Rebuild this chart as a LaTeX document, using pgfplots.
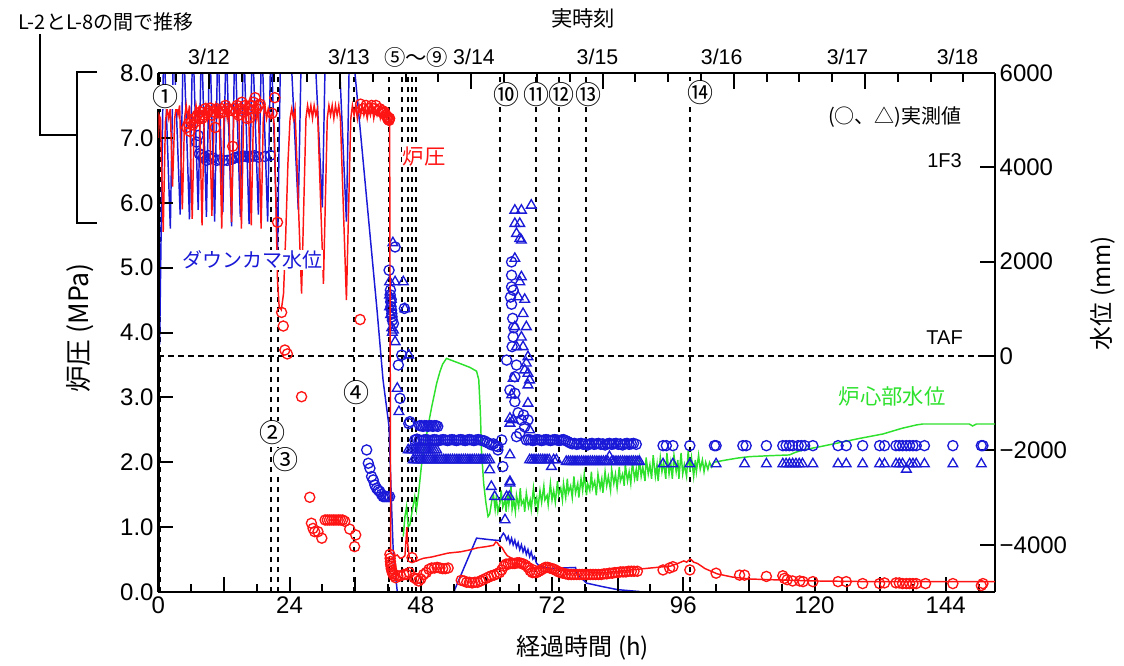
\documentclass[border=0pt]{standalone}
\usepackage{fontspec}
\usepackage{pgfplots}
\pgfplotsset{compat=1.18}
\setmainfont{Liberation Sans}
\newfontfamily\jp{Noto Sans CJK JP}
\definecolor{cred}{RGB}{255,20,20}
\definecolor{cblue}{RGB}{25,25,215}
\definecolor{cgreen}{RGB}{45,225,45}
\tikzset{dl/.style={black, line width=1.5pt, dash pattern=on 4pt off 3.5pt}}
\pgfplotsset{
  base/.style={
    at={(118.725pt,-444pt)}, anchor=south west,
    scale only axis, width=627.5pt, height=389.25pt,
    xmin=0, xmax=153,
    tick align=inside,
    tick style={black, line width=1.5pt},
    axis line style={line width=1.8pt},
    major tick length=11pt, minor tick length=6pt,
    /pgf/number format/assume math mode=true,
    tick label style={font=\fontsize{18}{20}\selectfont},
  }
}
\begin{document}
\begin{tikzpicture}
\path[use as bounding box] (0pt,0pt) rectangle (843pt,-498.75pt);
% ---------------- level axis (right) ----------------
\begin{axis}[base, ymin=-5000, ymax=6000, axis y line*=right, hide x axis,
  ytick={-4000,-2000,0,2000,4000,6000},
  yticklabels={−4000,−2000,0,2000,4000,6000}]
\pgfplotsinvokeforeach{0.3,20.7,21.8,35.8,42.2,44.5,45.6,46.4,47.2,62.4,69.0,73.2,78.2,97.2}{
  \draw[dl] (axis cs:#1,-5000) -- (axis cs:#1,6000);}
\draw[dl] (axis cs:0,0) -- (axis cs:153,0);
% downcomer level line
\addplot[cblue, line width=1.1pt] coordinates {
(0.0,350) (0.25,300) (1.0,6800) (2.2,2700) (2.8,6800) (4.0,3000) (4.6,6800) (5.7,2900) (6.3,6800) (7.3,3100) (7.9,6800) (8.8,2950) (9.4,6800) (10.3,2850) (10.9,6800) (11.8,3050) (12.4,6800) (13.4,2750) (14.0,6800) (15.0,2950) (15.6,6800) (16.6,2800) (17.2,6800) (18.3,3000) (18.9,6800) (20.0,2850) (20.6,6800) (21.8,2250) (22.4,6800) (24.1,6800) (25.6,3100) (26.2,6800) (28.5,6800) (30.0,3150) (30.6,6800) (32.9,6800) (34.4,2850) (35.0,6800) (35.8,6800) (36.0,5950) (40.0,974) (41.1,-508) (42.2,-1496) (42.7,-3323) (43.0,-4247) (43.6,-4882) (43.8,-5100)};
\addplot[cblue, line width=1.1pt] coordinates {
(54.0,-5100) (54.2,-4952) (58.2,-3858) (60.9,-3894) (62.4,-3909) (62.7,-3830) (63.1,-3753) (63.4,-3800) (63.7,-3894) (64.0,-3824) (64.3,-3965) (64.6,-3860) (64.9,-4000) (65.2,-3900) (65.5,-4050) (65.8,-3950) (66.1,-4106) (66.4,-4000) (66.7,-4150) (67.0,-4050) (67.3,-4200) (67.6,-4100) (67.9,-4250) (68.2,-4150) (68.5,-4300) (68.8,-4250) (69.15,-4388) (69.75,-4459) (72.0,-4500) (76.3,-4480) (76.6,-4620) (78.3,-4811) (81.0,-4880) (84.0,-4950) (88.0,-4990) (89.0,-5060)};
% core level
\addplot[cgreen, line width=1.1pt] coordinates {
(44.8,-3824) (45.1,-3400) (45.4,-3189) (45.7,-3612) (46.0,-3577) (46.4,-3300) (46.9,-2978) (47.2,-3259) (47.6,-2900) (48.1,-2343) (48.5,-2000) (49.0,-1708) (49.5,-1380) (50.0,-1073) (50.5,-800) (50.9,-578) (51.5,-330) (52.0,-170) (52.7,-49) (55.0,-150) (57.0,-240) (58.2,-320) (58.6,-500) (58.9,-1200) (59.1,-2000) (59.5,-2700) (59.9,-3100) (60.3,-3400) (60.6,-3350) (61.0,-3050)
(61.3,-2950) (61.6,-3250) (61.8,-3000) (62.1,-3300) (62.5,-3100) (62.7,-2850) (63.0,-3200) (63.4,-3050) (63.6,-3300) (63.9,-2900) (64.1,-3150) (64.5,-2750) (64.7,-3250) (65.0,-3050) (65.3,-3300) (65.5,-2950) (65.9,-3200) (66.2,-2800) (66.4,-3150) (66.8,-3050) (67.0,-3300) (67.3,-2900) (67.7,-3200) (68.0,-3050) (68.2,-3250) (68.6,-2800) (68.9,-3150) (69.2,-3000) (69.4,-3250) (69.8,-2850) (70.1,-3100) (70.5,-2750) (70.7,-3050) (71.1,-2950) (71.3,-3150) (71.7,-2700) (72.0,-3050) (72.3,-2850) (72.6,-3100) (73.0,-2650) (73.2,-2950) (73.6,-2800) (73.9,-3050) (74.1,-2700) (74.5,-3000) (74.8,-2600) (75.0,-2900) (75.4,-2750) (75.7,-3000) (76.0,-2550) (76.3,-2900) (76.7,-2700) (76.9,-3000) (77.3,-2600) (77.6,-2850) (77.9,-2500) (78.3,-2950) (78.5,-2700) (78.9,-2850) (79.2,-2450) (79.4,-2800) (79.8,-2650) (80.1,-2950) (80.4,-2500) (80.8,-2800) (81.1,-2600) (81.3,-2900) (81.7,-2450) (82.0,-2750) (82.3,-2550) (82.7,-2850) (82.9,-2400) (83.3,-2700) (83.6,-2500) (83.9,-2800) (84.3,-2350) (84.5,-2650) (84.9,-2500) (85.2,-2750) (85.4,-2300) (85.8,-2650) (86.1,-2450) (86.4,-2700) (86.7,-2250) (87.1,-2600) (87.4,-2400) (87.6,-2650) (88.0,-2200) (88.3,-2550) (88.6,-2350) (89.0,-2650) (89.2,-2150) (89.6,-2500) (89.9,-2300) (90.2,-2600) (90.5,-2100) (90.9,-2550) (91.2,-2300) (91.4,-2650) (91.8,-2150) (92.1,-2450) (92.4,-2250) (92.8,-2600) (93.0,-2050) (93.4,-2500) (93.7,-2250) (94.0,-2600) (94.3,-2100) (94.7,-2450) (95.0,-2200) (95.2,-2600) (95.6,-2050) (95.9,-2500) (96.2,-2300) (96.6,-2550) (96.9,-2000) (97.2,-2450) (97.5,-2150) (97.9,-2550) (98.2,-2200) (98.4,-2450) (98.8,-2100) (99.1,-2400) (99.5,-2200) (99.8,-2450) (100.1,-2250) (100.5,-2400) (100.8,-2250) (101.2,-2350) (101.6,-2250)
(102.5,-2230) (103.9,-2201) (106.0,-2160) (108.1,-2131) (112.0,-2110) (115.4,-2095) (116.5,-2040) (117.9,-1989) (121.0,-1920) (124.0,-1848) (128.0,-1750) (132.5,-1651) (136.0,-1530) (138.6,-1460) (139.8,-1439) (148.3,-1439) (148.9,-1481) (149.6,-1439) (153.0,-1439)};
% measured level: circles
\addplot[only marks, mark=o, mark size=3.8pt, cblue, mark options={line width=1pt}] coordinates {
(7.0,4535) (7.3,4677) (7.5,4290) (7.9,4254) (8.2,4200) (8.5,4218) (8.8,4150) (9.2,4250) (9.6,4180) (10.0,4200) (10.7,4148) (11.3,4160) (11.9,4148) (12.6,4148) (13.4,4170) (14.0,4200) (14.4,4218) (14.8,4233) (15.2,4225) (15.6,4240) (16.0,4233) (16.4,4218) (16.8,4240) (17.2,4233) (17.6,4247) (18.3,4218) (19.5,4230) (20.5,4254)
(38.1,-1989) (38.4,-2271) (38.7,-2377) (39.0,-2554) (39.3,-2624) (39.6,-2730) (39.9,-2800) (40.2,-2840) (40.5,-2871) (40.8,-2930) (41.1,-2978) (41.4,-2978) (41.7,-2978) (42.0,-2978) (42.3,-2978)
(42.2,1820) (43.3,2313) (42.4,1300) (42.5,1150) (42.55,1050) (42.65,974) (42.7,900) (42.75,832) (42.8,760) (43.0,692) (42.6,1200) (42.45,1400) (45.0,1010) (44.5,21) (43.9,-190) (44.2,-895) (46.0,-1390) (45.8,-1430)
(46.9,-1778) (47.3,-1760) (47.7,-1778) (48.1,-1790) (48.5,-1778) (48.9,-1770) (49.3,-1778) (49.7,-1790) (50.1,-1778) (50.5,-1770) (50.9,-1778) (51.3,-1790) (51.7,-1778) (52.1,-1770) (52.5,-1778) (52.9,-1790) (53.3,-1778) (53.7,-1770) (54.1,-1778) (54.5,-1790) (54.9,-1778) (55.3,-1770) (55.7,-1778) (56.1,-1790) (56.5,-1778) (56.9,-1770) (57.3,-1778) (57.7,-1790) (58.1,-1778) (58.5,-1770) (58.9,-1778) (59.3,-1790) (59.7,-1800) (60.1,-1830) (60.5,-1850) (60.9,-1880) (61.3,-1860) (61.7,-1900)
(47.8,-1475) (48.1,-1475) (48.4,-1490) (48.7,-1475) (49.0,-1475) (49.3,-1490) (49.6,-1475) (49.9,-1475) (50.2,-1490) (50.5,-1475) (50.8,-1475) (51.1,-1490)
(64.6,1996) (64.6,1714) (64.6,1467) (64.9,1397) (64.9,408) (63.7,-85) (65.5,-190) (65.2,-438) (64.3,-720) (65.2,-790) (65.2,-966) (66.4,-1354) (67.6,-1354) (66.1,-1637) (65.5,-1707) (62.8,-1778) (62.1,-1919) (63.0,-2342) (62.1,-1989) (64.6,1100) (64.8,800) (65.0,600) (64.4,1250) (64.7,200) (65.8,-1200) (67.0,-1500) (66.8,-1250)
(67.3,-1778) (67.7,-1770) (68.1,-1778) (68.5,-1790) (68.9,-1778) (69.3,-1770) (69.7,-1778) (70.1,-1790) (70.5,-1778) (70.9,-1770) (71.3,-1778) (71.7,-1790) (72.1,-1778) (72.5,-1770) (72.9,-1778) (73.3,-1790) (73.7,-1778) (74.1,-1770) (74.5,-1790) (74.9,-1813) (75.3,-1840) (75.7,-1860) (76.1,-1850) (76.5,-1870) (76.9,-1860) (77.3,-1850) (77.7,-1870) (78.1,-1860) (78.5,-1884) (78.9,-1860) (79.3,-1850) (79.7,-1870) (80.1,-1860) (80.5,-1850) (80.9,-1870) (81.3,-1860) (81.7,-1884) (82.1,-1860) (82.5,-1850) (82.9,-1870) (83.3,-1860) (83.7,-1850) (84.1,-1870) (84.5,-1860) (84.9,-1884) (85.3,-1860) (85.7,-1850) (86.1,-1870) (86.5,-1860) (86.9,-1850) (87.4,-1870)
(92.3,-1898) (92.9,-1898) (94.1,-1898) (97.2,-1898) (101.7,-1898) (102.0,-1898) (106.9,-1898) (107.5,-1898) (111.2,-1898) (114.2,-1898) (114.8,-1898) (115.4,-1898) (116.0,-1898) (117.0,-1898) (117.6,-1898) (118.2,-1898) (119.7,-1898) (124.3,-1898) (125.8,-1898) (128.8,-1898) (131.9,-1898) (132.8,-1898) (134.9,-1898) (135.5,-1898) (136.1,-1898) (136.8,-1898) (137.4,-1898) (138.0,-1898) (138.6,-1898) (140.1,-1898) (145.3,-1898) (150.5,-1898) (150.8,-1898)};
% measured level: triangles
\addplot[only marks, mark=triangle, mark size=4.2pt, cblue, mark options={line width=1pt}] coordinates {
(42.9,2400) (42.3,1573) (43.3,1573) (44.8,1573) (42.3,1291) (42.3,1043) (42.5,880) (42.6,1200) (42.7,600) (42.8,500) (43.0,550) (43.3,303) (45.1,1000) (45.8,21) (43.7,-684) (44.0,-1179)
(45.7,-1989) (46.1,-1989) (46.5,-1989) (46.9,-1989) (47.3,-1989) (47.7,-1989) (48.1,-1989) (48.5,-1989) (48.9,-1989) (49.3,-1989) (49.7,-1989) (50.1,-1989) (50.5,-1989) (50.9,-1989)
(46.6,-2201) (47.0,-2201) (47.4,-2201) (47.8,-2201) (48.2,-2201) (48.6,-2201) (49.0,-2201) (49.4,-2201) (49.8,-2201) (50.2,-2201) (50.6,-2201) (51.0,-2201) (51.4,-2201) (51.8,-2201) (52.2,-2201) (52.6,-2201) (53.0,-2201) (53.4,-2201) (53.8,-2201) (54.2,-2201) (54.6,-2201) (55.0,-2201) (55.4,-2201) (55.8,-2201) (56.2,-2201) (56.6,-2201) (57.0,-2201) (57.4,-2201) (57.8,-2201) (58.2,-2201) (58.6,-2201) (59.0,-2201) (59.4,-2201) (59.8,-2201) (60.2,-2201) (60.6,-2201)
(60.6,-2413) (60.9,-2765) (61.5,-2978) (63.7,-2978) (64.3,-2660) (63.4,-3471) (64.2,-2978) (64.3,-2695) (64.3,-2095)
(65.2,3090) (66.4,3090) (68.2,3196) (65.2,2808) (66.1,2808) (65.5,2597) (66.1,2491) (66.4,2455) (65.2,2068) (66.4,1678) (66.1,1573) (65.8,1255) (65.2,620) (67.3,620) (65.5,197) (66.7,197) (67.6,-15) (67.0,-296) (67.6,-366) (67.9,-508) (67.6,-614) (64.9,-472) (64.6,-825) (67.6,-1001) (64.3,-1319) (64.9,-1354) (64.3,-1425) (67.9,-1566) (66.7,900) (67.0,1200) (66.4,400) (67.3,-150)
(67.9,-2201) (68.3,-2201) (68.7,-2201) (69.1,-2201) (69.5,-2201) (69.9,-2201) (70.3,-2201) (70.7,-2201) (71.1,-2201) (71.5,-2201) (71.9,-2342) (72.3,-2201) (72.8,-2201)
(74.6,-2236) (75.0,-2236) (75.4,-2236) (75.8,-2236) (76.2,-2236) (76.6,-2236) (77.0,-2236) (77.4,-2236) (77.8,-2236) (78.2,-2236) (78.6,-2236) (79.0,-2236) (79.4,-2236) (79.8,-2236) (80.2,-2236) (80.6,-2236) (81.0,-2236) (81.4,-2236) (81.8,-2236) (82.2,-2236) (82.5,-2131) (82.9,-2236) (83.3,-2236) (83.7,-2236) (84.1,-2236) (84.5,-2236) (84.9,-2236) (85.3,-2236) (85.7,-2236) (86.1,-2236) (86.5,-2236) (86.9,-2236) (87.3,-2236) (87.7,-2236) (88.0,-2236)
(92.3,-2286) (94.1,-2286) (97.2,-2286) (102.0,-2286) (107.2,-2286) (111.2,-2286) (114.2,-2286) (114.8,-2286) (115.4,-2286) (116.0,-2286) (116.6,-2286) (117.2,-2286) (117.8,-2286) (119.7,-2286) (124.3,-2286) (125.8,-2286) (128.8,-2286) (131.9,-2286) (132.8,-2286) (134.9,-2286) (135.5,-2286) (136.1,-2286) (136.8,-2400) (137.4,-2286) (138.0,-2286) (138.6,-2286) (140.1,-2286) (145.3,-2286) (150.5,-2286)};
\end{axis}
% ---------------- pressure axis (left + bottom) ----------------
\begin{axis}[base, ymin=0, ymax=8, axis y line*=left, axis x line*=bottom,
  xtick={0,12,...,144}, xticklabels={0,,24,,48,,72,,96,,120,,144},
  minor xtick={6,18,...,150},
  ytick={0,1,...,8}, yticklabels={0.0,1.0,2.0,3.0,4.0,5.0,6.0,7.0,8.0}]
\addplot[cred, line width=1.1pt] coordinates {
(0.0,7.0) (0.15,7.35) (0.4,7.3) (0.9,5.55) (1.3,7.25) (1.6,7.45) (1.9,7.3) (2.2,7.45) (2.6,6.25) (3.0,7.3) (3.3,7.5) (3.6,7.35) (3.9,7.5) (4.4,5.9) (4.8,7.3) (5.1,7.5) (5.4,7.3) (5.7,7.5) (6.2,5.75) (6.6,7.35) (6.9,7.5) (7.2,7.3) (7.5,7.5) (8.0,5.65) (8.4,7.35) (8.7,7.5) (9.0,7.3) (9.3,7.5) (9.8,5.8) (10.2,7.3) (10.5,7.5) (10.8,7.35) (11.1,7.5) (11.6,5.6) (12.0,7.3) (12.3,7.5) (12.6,7.3) (12.9,7.5) (13.4,5.7) (13.8,7.35) (14.1,7.5) (14.4,7.3) (14.7,7.5) (15.2,5.6) (15.6,7.3) (15.9,7.55) (16.2,7.35) (16.5,7.5) (17.0,5.65) (17.4,7.35) (17.7,7.5) (18.0,7.3) (18.3,7.5) (18.8,5.6) (19.2,7.3) (19.5,7.5) (19.8,7.3) (20.1,7.45) (20.5,7.3) (20.9,7.4) (21.2,7.2) (21.5,6.0) (21.8,4.8) (22.1,4.4) (22.5,4.35) (22.9,4.6) (23.3,5.5) (23.7,6.6) (24.1,7.3) (24.4,7.45) (24.7,7.3) (25.0,7.45) (26.2,4.6) (27.0,7.3) (27.3,7.5) (27.6,7.35) (27.9,7.5) (28.2,7.3) (28.5,7.5) (28.8,7.35) (29.1,7.45) (30.2,4.75) (30.9,7.3) (31.2,7.5) (31.5,7.35) (31.8,7.5) (32.1,7.3) (32.4,7.5) (32.7,7.35) (33.0,7.5) (33.3,7.3) (34.4,4.5) (35.2,7.3) (35.5,7.5) (35.8,7.35) (36.1,7.5) (36.4,7.3) (36.7,7.5) (37.0,7.35) (37.3,7.5) (37.6,7.35) (37.9,7.45) (38.2,7.3) (38.5,7.45) (38.8,7.35) (39.1,7.5) (39.4,7.3) (39.7,7.45) (40.0,7.35) (40.3,7.45) (40.6,7.3) (40.9,7.4) (41.2,7.3) (41.5,7.4) (41.8,7.3) (42.1,7.35) (42.3,7.3) (42.4,4.0) (42.5,0.62) (42.8,0.58) (43.2,0.55) (43.7,0.57) (44.2,0.52) (44.7,0.53) (45.1,0.56) (45.3,0.8) (45.45,1.0) (45.6,0.75) (45.9,0.53) (46.3,0.52) (46.8,0.47) (47.3,0.48) (47.8,0.5) (48.5,0.52) (50.0,0.54) (51.5,0.57) (53.0,0.6) (55.3,0.62) (57.0,0.65) (58.3,0.68) (60.0,0.7) (61.3,0.72) (61.7,0.77) (62.0,0.76) (62.3,0.72) (62.9,0.68) (63.3,0.62) (63.8,0.56) (64.4,0.53) (65.6,0.49) (67.0,0.46) (68.5,0.42) (69.9,0.37) (72.0,0.34) (75.4,0.32) (78.0,0.31) (81.5,0.3) (84.0,0.32) (87.6,0.35) (90.0,0.37) (93.7,0.4) (95.0,0.44) (96.1,0.48) (96.6,0.46) (97.3,0.51) (97.9,0.46) (98.6,0.44) (100.0,0.36) (102.2,0.28) (105.0,0.23) (108.3,0.2) (112.0,0.19) (116.0,0.18) (120.5,0.17) (130.0,0.16) (140.0,0.16) (153.0,0.16)};
\addplot[only marks, mark=o, mark size=3.8pt, cred, mark options={line width=1pt}] coordinates {
(5.2,7.16) (5.5,7.22) (5.8,7.1) (6.0,7.25) (6.3,7.2) (6.6,7.3) (6.9,7.25) (7.1,7.35) (7.4,7.3) (7.7,7.4) (8.0,7.3) (8.3,7.35) (8.6,7.45) (8.9,7.38) (9.2,7.42) (9.5,7.46) (9.8,7.35) (10.1,7.4) (10.4,7.16) (10.7,7.45) (11.0,7.4) (11.3,7.38) (11.6,7.45) (12.0,7.4) (12.3,7.5) (12.6,7.45) (13.0,7.42) (13.6,6.87) (13.8,7.45) (14.1,7.4) (14.4,7.5) (14.7,7.35) (15.0,7.45) (15.3,7.55) (15.6,7.4) (15.9,7.5) (16.2,7.3) (16.5,7.45) (16.8,7.31) (17.1,7.5) (17.4,7.55) (17.7,7.62) (18.0,7.45) (18.3,7.5) (18.6,7.52) (20.8,7.38) (21.3,7.62) (21.8,5.7)
(22.55,4.31) (22.85,4.1) (23.15,3.73) (23.6,3.67) (26.2,3.01) (27.7,1.46) (28.0,1.06) (28.3,0.98) (28.6,0.93) (29.2,0.93) (29.9,0.83) (30.5,1.11) (30.9,1.11) (31.3,1.11) (31.7,1.11) (32.1,1.11) (32.5,1.11) (32.9,1.11) (33.3,1.11) (33.7,1.11) (34.1,1.09) (35.0,0.97) (36.1,0.88) (35.9,0.7) (36.9,4.2)
(37.0,7.52) (37.5,7.45) (38.0,7.5) (38.5,7.45) (39.0,7.5) (39.4,7.45) (39.8,7.5) (40.2,7.42) (40.5,7.45) (40.8,7.4) (41.0,7.42) (41.2,7.38) (41.4,7.4) (41.6,7.35) (41.8,7.33) (41.9,7.3) (42.0,7.32) (42.1,7.28) (42.2,7.27) (42.3,7.3)
(42.35,0.58) (42.4,0.52) (42.45,0.47) (42.5,0.43) (42.55,0.4) (42.6,0.36) (42.7,0.33) (42.8,0.3) (42.9,0.28) (43.1,0.25) (43.4,0.22) (43.8,0.25) (44.3,0.25) (44.9,0.27) (45.4,0.27) (45.9,0.3) (46.4,0.53) (46.8,0.22) (47.2,0.2) (47.6,0.17) (48.0,0.2) (48.5,0.27) (49.0,0.3) (49.5,0.35) (50.0,0.37) (50.5,0.37) (51.0,0.38) (51.5,0.37) (52.0,0.36) (52.5,0.36) (53.0,0.37)
(55.4,0.18) (55.9,0.17) (56.4,0.15) (56.9,0.15) (57.4,0.14) (57.9,0.15) (58.4,0.15) (58.9,0.17) (59.4,0.19) (59.9,0.21) (60.4,0.23) (60.9,0.25) (61.4,0.26) (61.9,0.28) (62.4,0.3) (62.8,0.34) (63.2,0.4) (63.6,0.43) (64.0,0.43) (64.4,0.44) (64.8,0.44) (65.2,0.44) (65.6,0.45) (66.0,0.45) (66.4,0.44) (66.8,0.43) (67.2,0.41) (67.6,0.38) (68.0,0.33) (68.4,0.3) (68.8,0.3) (69.2,0.3) (69.6,0.32) (70.0,0.34) (70.4,0.36) (70.8,0.38) (71.2,0.38) (71.6,0.37) (72.0,0.36) (72.4,0.35) (72.8,0.33) (73.2,0.31) (73.6,0.3) (74.0,0.29) (74.5,0.28) (75.0,0.27) (75.5,0.27) (76.0,0.27) (76.5,0.27) (77.0,0.27) (77.5,0.27) (78.0,0.27) (78.5,0.27) (79.0,0.27) (79.5,0.27) (80.0,0.27) (80.5,0.27) (81.0,0.27) (81.5,0.28) (82.0,0.28) (82.5,0.29) (83.0,0.29) (83.5,0.3) (84.0,0.3) (84.5,0.31) (85.0,0.31) (85.5,0.31) (86.0,0.32) (86.5,0.32) (87.0,0.32) (87.6,0.32)
(92.3,0.34) (93.5,0.37) (94.1,0.39) (97.2,0.34) (102.0,0.29) (106.3,0.26) (107.2,0.26) (111.2,0.24) (114.2,0.25) (114.5,0.21) (115.0,0.19) (116.0,0.17) (117.3,0.17) (117.9,0.16) (119.7,0.16) (124.3,0.16) (125.8,0.16) (128.8,0.13) (131.9,0.13) (132.8,0.14) (134.9,0.14) (135.5,0.14) (136.1,0.13) (136.8,0.13) (137.4,0.13) (138.0,0.13) (138.6,0.13) (140.3,0.13) (145.3,0.13) (150.5,0.1) (150.8,0.13)};
\end{axis}
% ---------------- top date axis ----------------
\begin{axis}[base, ymin=0, ymax=1, axis x line*=top, hide y axis,
  xtick={9.233,33.233,57.233,81.233,105.233,129.233}, xticklabels={,,,,,,},
  minor xtick={3.233,15.233,21.233,27.233,39.233,45.233,51.233,63.233,69.233,75.233,87.233,93.233,99.233,111.233,117.233,123.233,135.233,141.233,147.233},
  major tick length=12pt, minor tick length=6.75pt]
\addplot[draw=none] coordinates {(0,0)};
\end{axis}
% ---------------- annotations (pixel coordinates) ----------------
\begin{scope}[x=0.75pt, y=-0.75pt]
\node[font=\jp\fontsize{16}{18}\selectfont] at (583,18) {実時刻};
\node[font=\jp\fontsize{18}{20}\selectfont] at (583,648) {経過時間 (h)};
\node[font=\jp\fontsize{20}{22}\selectfont, rotate=90] at (80,328) {炉圧 (MPa)};
\node[font=\jp\fontsize{18}{20}\selectfont, rotate=90] at (1103,293) {水位 (mm)};
\node[font=\fontsize{16}{18}\selectfont] at (209,57) {3/12};
\node[font=\fontsize{16}{18}\selectfont] at (349,57) {3/13};
\node[font=\fontsize{16}{18}\selectfont] at (474,57) {3/14};
\node[font=\fontsize{16}{18}\selectfont] at (597.5,57) {3/15};
\node[font=\fontsize{16}{18}\selectfont] at (721.7,57) {3/16};
\node[font=\fontsize{16}{18}\selectfont] at (847.5,57) {3/17};
\node[font=\fontsize{16}{18}\selectfont] at (957.5,57) {3/18};
\node[font=\jp\fontsize{16}{18}\selectfont] at (416,57) {⑤～⑨};
\tikzset{cn/.style={font=\jp\fontsize{19.5}{20}\selectfont, fill=white, inner sep=0.2pt}}
\node[cn] at (165,97) {①};
\node[cn] at (272.7,433) {②};
\node[cn] at (285,460) {③};
\node[cn] at (356,393) {④};
\node[cn] at (506,95) {⑩};
\node[cn] at (536,95) {⑪};
\node[cn] at (561,95) {⑫};
\node[cn] at (588.5,95) {⑬};
\node[cn] at (700,93) {⑭};
\node[font=\jp\fontsize{16}{18}\selectfont, text=cred, fill=white, inner sep=0.5pt] at (424,157) {炉圧};
\node[font=\jp\fontsize{15}{18}\selectfont, text=cblue, fill=white, inner sep=0.5pt] at (252,260) {ダウンカマ水位};
\node[font=\jp\fontsize{16}{18}\selectfont, text=cgreen] at (892,396) {炉心部水位};
\node[font=\jp\fontsize{15}{18}\selectfont, anchor=east, inner sep=0pt] at (962,117) {(○、△)実測値};
\node[font=\fontsize{15}{18}\selectfont, anchor=east, inner sep=0pt] at (962,161) {1F3};
\node[font=\fontsize{15}{18}\selectfont, anchor=east, inner sep=0pt] at (963,338) {TAF};
\node[font=\jp\fontsize{15}{18}\selectfont] at (106,22) {L-2とL-8の間で推移};
\draw[line width=1.5pt] (97,72) -- (77,72) -- (77,223) -- (97,223);
\draw[line width=1.5pt] (77,135) -- (40,135) -- (40,34);
\end{scope}
\end{tikzpicture}
\end{document}
